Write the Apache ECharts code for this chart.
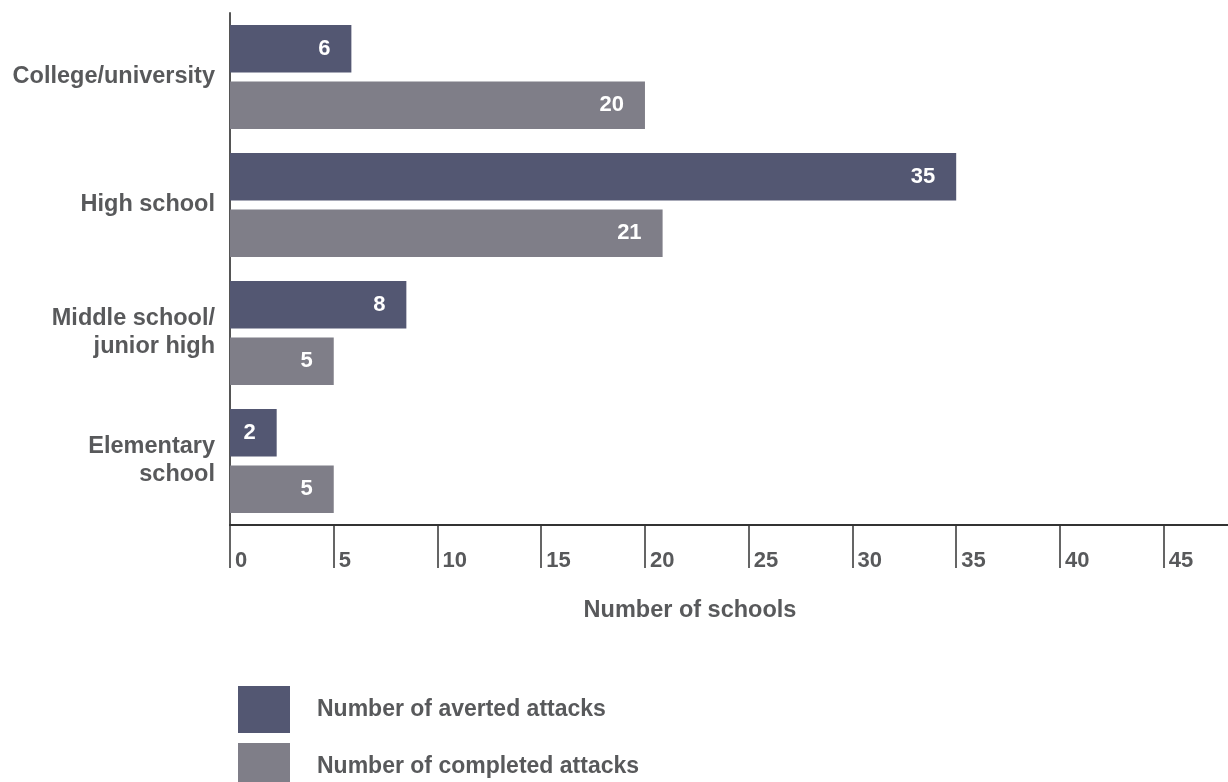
<!DOCTYPE html>
<html>
<head>
<meta charset="utf-8">
<script src="https://cdn.jsdelivr.net/npm/echarts@6/dist/echarts.min.js"></script>
<style>
html,body{margin:0;padding:0;background:#fff;}
#chart{width:1228px;height:782px;}
</style>
</head>
<body>
<div id="chart"></div>
<script>
// Data
var categories = ['College/university', 'High school', 'Middle school/\njunior high', 'Elementary\nschool'];
var avertedValues = [5.85, 35, 8.5, 2.25];      // bar lengths as drawn
var avertedLabels = [6, 35, 8, 2];               // printed values
var completedValues = [20, 20.85, 5, 5];
var completedLabels = [20, 21, 5, 5];
var seriesNames = ['Number of averted attacks', 'Number of completed attacks'];
var tickValues = [0, 5, 10, 15, 20, 25, 30, 35, 40, 45];
var axisTitle = 'Number of schools';

var textGrey = '#58595b';
var fontFam = '"Liberation Sans", Arial, Helvetica, sans-serif';

function legendStyle(name, top) {
  return {
    orient: 'vertical',
    left: 233,
    top: top,
    itemWidth: 52,
    itemHeight: 47,
    icon: 'rect',
    selectedMode: false,
    textStyle: {
      color: textGrey,
      fontSize: 23,
      fontWeight: 'bold',
      fontFamily: fontFam,
      padding: [0, 0, 0, 22]
    },
    data: [name]
  };
}

var chart = echarts.init(document.getElementById('chart'), null, {renderer: 'canvas'});
chart.setOption({
  animation: false,
  backgroundColor: '#ffffff',
  grid: {left: 230, right: 0, top: 13, bottom: 257, containLabel: false},
  xAxis: {
    type: 'value',
    min: 0,
    max: 48.1,
    interval: 5,
    splitLine: {show: false},
    axisLine: {show: true, lineStyle: {color: '#333333', width: 2}},
    axisTick: {show: true, length: 43, lineStyle: {color: '#333333', width: 1.5}, customValues: tickValues},
    axisLabel: {
      customValues: tickValues,
      align: 'left',
      verticalAlign: 'middle',
      margin: 36,
      padding: [0, 0, 0, 5],
      color: textGrey,
      fontSize: 22,
      fontWeight: 'bold',
      fontFamily: fontFam
    }
  },
  yAxis: {
    type: 'category',
    data: categories,
    inverse: true,
    axisLine: {show: true, lineStyle: {color: '#555555', width: 2}},
    axisTick: {show: false},
    splitLine: {show: false},
    axisLabel: {
      margin: 15,
      color: textGrey,
      fontSize: 23.5,
      fontWeight: 'bold',
      fontFamily: fontFam,
      lineHeight: 28,
      align: 'right'
    }
  },
  legend: [legendStyle(seriesNames[0], 681), legendStyle(seriesNames[1], 738)],
  graphic: [{
    type: 'text',
    x: 690,
    y: 611,
    style: {
      text: axisTitle,
      fill: textGrey,
      font: 'bold 23.5px ' + fontFam,
      textAlign: 'center',
      textVerticalAlign: 'middle'
    }
  }],
  series: [
    {
      name: seriesNames[0],
      type: 'bar',
      data: avertedValues,
      barWidth: 47.5,
      barGap: '19%',
      itemStyle: {color: '#535772'},
      label: {
        show: true,
        position: 'insideRight',
        distance: 21,
        color: '#ffffff',
        fontSize: 22,
        fontWeight: 'bold',
        fontFamily: fontFam,
        formatter: function (p) { return avertedLabels[p.dataIndex]; }
      }
    },
    {
      name: seriesNames[1],
      type: 'bar',
      data: completedValues,
      barWidth: 47.5,
      barGap: '19%',
      itemStyle: {color: '#7f7e88'},
      label: {
        show: true,
        position: 'insideRight',
        distance: 21,
        color: '#ffffff',
        fontSize: 22,
        fontWeight: 'bold',
        fontFamily: fontFam,
        formatter: function (p) { return completedLabels[p.dataIndex]; }
      }
    }
  ]
});
</script>
</body>
</html>
